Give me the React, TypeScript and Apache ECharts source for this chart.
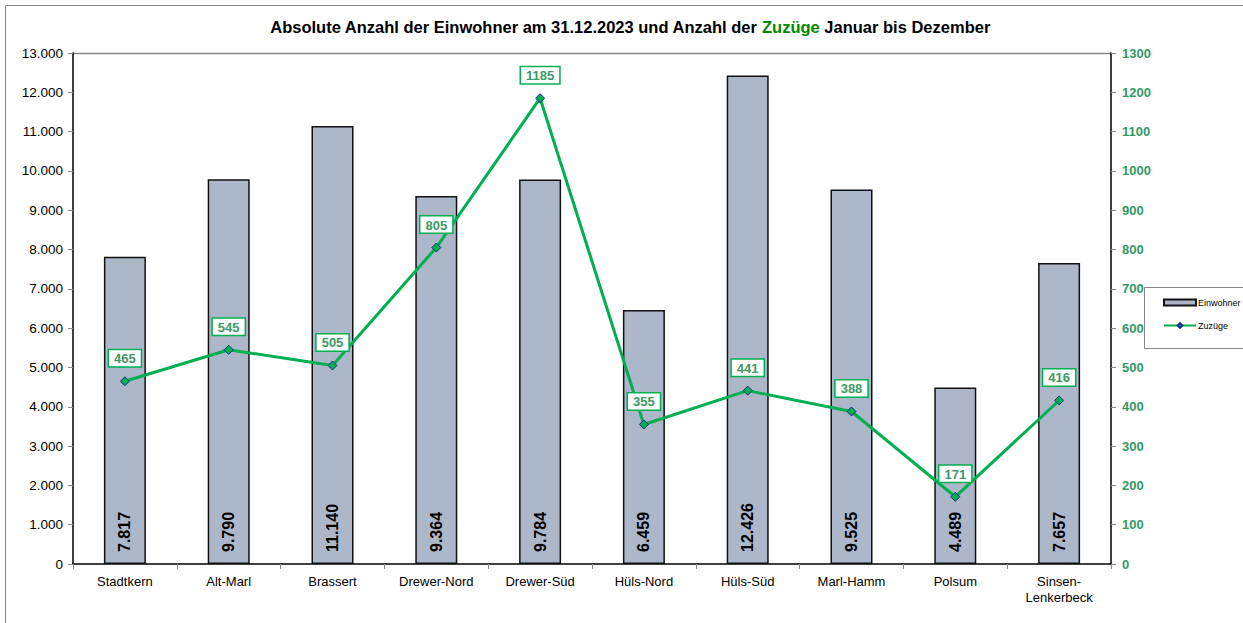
import React, { useEffect, useRef } from "react";
import * as echarts from "echarts";

const categories = ["Stadtkern", "Alt-Marl", "Brassert", "Drewer-Nord", "Drewer-Süd", "Hüls-Nord", "Hüls-Süd", "Marl-Hamm", "Polsum", "Sinsen-\nLenkerbeck"];
const einwohner = [7817, 9790, 11140, 9364, 9784, 6459, 12426, 9525, 4489, 7657];
const zuzuege = [465, 545, 505, 805, 1185, 355, 441, 388, 171, 416];

const fmt = (v: number) => {
  const s = String(Math.round(v));
  return s.replace(/\B(?=(\d{3})+(?!\d))/g, ".");
};

export default function App() {
  const ref = useRef<HTMLDivElement>(null);
  useEffect(() => {
    if (!ref.current) return;
    const chart = echarts.init(ref.current, undefined, { renderer: "svg" });
    const font = "Liberation Sans, Arial, sans-serif";
    chart.setOption({
      animation: false,
      textStyle: { fontFamily: font },
      title: {
        text: "{b|Absolute Anzahl der Einwohner am 31.12.2023 und Anzahl der }{g|Zuzüge}{b| Januar bis Dezember}",
        left: 625,
        textAlign: "center",
        top: 13,
        textStyle: {
          rich: {
            b: { fontSize: 16.5, fontWeight: "bold", color: "#000", fontFamily: font },
            g: { fontSize: 16.5, fontWeight: "bold", color: "#008a00", fontFamily: font },
          },
        },
      },
      graphic: [
        { type: "rect", shape: { x: 5.5, y: 5.5, width: 1400, height: 800 }, style: { fill: "none", stroke: "#888", lineWidth: 1 }, silent: true },
        { type: "line", shape: { x1: 73, y1: 53.5, x2: 1111, y2: 53.5 }, style: { stroke: "#888", lineWidth: 1.5 }, silent: true },
        { type: "rect", shape: { x: 1144.5, y: 287.5, width: 120, height: 61 }, style: { fill: "#fff", stroke: "#888", lineWidth: 1 }, silent: true, z: 5 },
      ],
      legend: {
        orient: "vertical",
        left: 1158,
        top: 293,
        itemGap: 14,
        itemWidth: 32,
        itemHeight: 6,
        z: 10,
        textStyle: { fontSize: 9, color: "#000", fontFamily: font, padding: [0, 0, 0, -3] },
        data: [
          { name: "Einwohner", icon: "rect" },
          { name: "Zuzüge" },
        ],
      },
      grid: { left: 73, right: 132, top: 53, bottom: 59, containLabel: false },
      xAxis: {
        type: "category",
        data: categories,
        axisLine: { lineStyle: { color: "#000", width: 1.5 } },
        axisTick: { show: true, length: 5, lineStyle: { color: "#888" } },
        axisLabel: { color: "#000", fontSize: 13, margin: 9, lineHeight: 16, fontFamily: font },
      },
      yAxis: [
        {
          type: "value",
          min: 0,
          max: 13000,
          interval: 1000,
          axisLine: { show: true, lineStyle: { color: "#000", width: 1.5 } },
          axisTick: { show: true, length: 5, lineStyle: { color: "#888" } },
          splitLine: { show: false },
          axisLabel: { color: "#000", fontSize: 13.5, margin: 10, formatter: (v: number) => fmt(v), fontFamily: font },
        },
        {
          type: "value",
          min: 0,
          max: 1300,
          interval: 100,
          position: "right",
          axisLine: { show: true, lineStyle: { color: "#000", width: 1.5 } },
          axisTick: { show: true, length: 5, lineStyle: { color: "#888" } },
          splitLine: { show: false },
          axisLabel: { color: "#339966", fontSize: 13, fontWeight: "bold", margin: 11, formatter: (v: number) => String(v), fontFamily: font },
        },
      ],
      series: [
        {
          name: "Einwohner",
          type: "bar",
          data: einwohner,
          barWidth: 42,
          itemStyle: { color: "#adb7ca", borderColor: "#111", borderWidth: 1.5 },
          label: {
            show: true,
            position: "insideBottom",
            rotate: 90,
            align: "left",
            verticalAlign: "middle",
            distance: 12,
            formatter: (p: any) => fmt(p.value),
            color: "#000",
            fontSize: 16,
            fontWeight: "bold",
            fontFamily: font,
          },
        },
        {
          name: "Zuzüge",
          type: "line",
          yAxisIndex: 1,
          data: zuzuege,
          symbol: "diamond",
          symbolSize: 9,
          lineStyle: { color: "#00b050", width: 3 },
          itemStyle: { color: "#00b050", borderColor: "#1a2a8a", borderWidth: 1 },
          z: 4,
          label: {
            show: true,
            position: "top",
            distance: 10,
            color: "#3d9a66",
            fontSize: 13,
            fontWeight: "bold",
            fontFamily: font,
            backgroundColor: "#fff",
            borderColor: "#00b050",
            borderWidth: 1.5,
            padding: [2, 5, 1, 5],
          },
        },
      ],
    });
    return () => chart.dispose();
  }, []);
  return <div ref={ref} style={{ position: "fixed", left: 0, top: 0, width: 1243, height: 623, background: "#fff" }} />;
}
